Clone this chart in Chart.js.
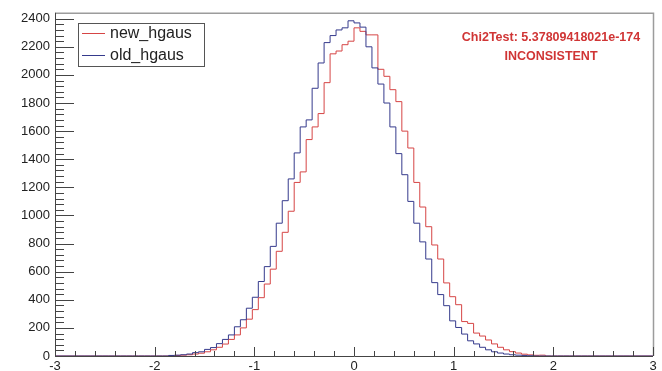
<!DOCTYPE html>
<html>
<head>
<meta charset="utf-8">
<script src="https://cdn.jsdelivr.net/npm/chart.js@4.4.1/dist/chart.umd.min.js"></script>
<style>
  html, body { margin: 0; padding: 0; background: #fff; }
  canvas { display: block; }
</style>
</head>
<body>
<canvas id="histChart" width="662" height="371"></canvas>
<script>
// histogram binning: 100 bins from -3 to 3
const histMin = -3;
const histMax = 3;

// bin contents, one value per bin (bin 0 starts at -3)
const newCounts = [
  0, 0, 0, 0, 0, 0, 0, 0, 0, 0,
  0, 0, 0, 0, 0, 0, 0, 0, 0, 0,
  2, 4, 6, 9, 14, 20, 30, 44, 62, 85,
  118, 150, 200, 262, 330, 415, 512, 618, 745, 880,
  1030, 1235, 1310, 1540, 1630, 1725, 1945, 2150, 2170, 2215,
  2240, 2335, 2310, 2285, 2285, 2040, 1990, 1895, 1810, 1600,
  1480, 1235, 1060, 920, 790, 690, 520, 422, 365, 245,
  232, 163, 142, 114, 86, 62, 44, 31, 21, 13,
  8, 5, 6, 0, 0, 0, 0, 0, 0, 0,
  0, 0, 0, 0, 0, 0, 0, 0, 0, 0
];
const oldCounts = [
  0, 0, 0, 0, 0, 0, 0, 0, 0, 0,
  0, 0, 0, 0, 0, 0, 0, 0, 0, 0,
  4, 6, 9, 14, 24, 30, 47, 60, 88, 118,
  150, 208, 258, 340, 418, 530, 636, 780, 945, 1105,
  1260, 1445, 1630, 1680, 1905, 2085, 2230, 2280, 2320, 2335,
  2385, 2370, 2340, 2200, 2050, 1935, 1800, 1630, 1440, 1290,
  1100, 945, 812, 690, 522, 437, 358, 250, 203, 156,
  108, 86, 62, 44, 30, 21, 14, 9, 6, 4,
  2, 0, 0, 0, 0, 0, 0, 0, 0, 0,
  0, 0, 0, 0, 0, 0, 0, 0, 0, 0
];

const seriesNames = ['new_hgaus', 'old_hgaus'];
const xTickValues = [-3, -2, -1, 0, 1, 2, 3];
const yTickValues = [0, 200, 400, 600, 800, 1000, 1200, 1400, 1600, 1800, 2000, 2200, 2400];
const yMax = 2442;
const chi2Lines = ['Chi2Test: 5.37809418021e-174', 'INCONSISTENT'];

const RED = '#d64545';
const BLUE = '#353a8c';

// turn bin contents into step points on the bin edges
const stepPoints = (counts) => {
  const w = (histMax - histMin) / counts.length;
  const pts = counts.map((c, i) => ({ x: histMin + i * w, y: c }));
  pts.push({ x: histMax, y: counts[counts.length - 1] });
  return pts;
};

Chart.defaults.font.family = '"Liberation Sans", Arial, Helvetica, sans-serif';
Chart.defaults.color = '#222';

// ROOT-like frame: inward ticks with minor subdivisions, legend and test text
const rootFrame = {
  id: 'rootFrame',
  afterDraw(chart) {
    const { ctx, chartArea: a, scales: { x, y } } = chart;
    ctx.save();

    // top / right frame
    ctx.strokeStyle = '#9c9c9c';
    ctx.lineWidth = 1.5;
    ctx.beginPath();
    ctx.moveTo(a.left, a.top + 0.5);
    ctx.lineTo(a.right + 0.5, a.top + 0.5);
    ctx.lineTo(a.right + 0.5, a.bottom);
    ctx.stroke();

    // axes
    ctx.strokeStyle = '#444';
    ctx.lineWidth = 1;
    ctx.beginPath();
    ctx.moveTo(a.left + 0.5, a.top);
    ctx.lineTo(a.left + 0.5, a.bottom + 0.5);
    ctx.lineTo(a.right, a.bottom + 0.5);
    ctx.stroke();

    ctx.beginPath();
    for (let v = 0; v <= 2400; v += 40) {
      const py = Math.round(y.getPixelForValue(v)) + 0.5;
      const len = v % 200 === 0 ? 19 : 9;
      ctx.moveTo(a.left, py);
      ctx.lineTo(a.left + len, py);
    }
    for (let i = 0; i <= 30; i++) {
      const px = Math.round(x.getPixelForValue(histMin + i * 0.2)) + 0.5;
      const len = i % 5 === 0 ? 9 : 5;
      ctx.moveTo(px, a.bottom);
      ctx.lineTo(px, a.bottom - len);
    }
    ctx.stroke();

    // legend box
    ctx.strokeStyle = '#555';
    ctx.strokeRect(78.5, 23.5, 126, 43);
    const colors = [RED, BLUE];
    ctx.font = '16px "Liberation Sans", Arial, sans-serif';
    ctx.textAlign = 'left';
    ctx.textBaseline = 'alphabetic';
    seriesNames.forEach((name, i) => {
      const ly = 33 + i * 22;
      ctx.strokeStyle = colors[i];
      ctx.beginPath();
      ctx.moveTo(82, ly + 0.5);
      ctx.lineTo(105, ly + 0.5);
      ctx.stroke();
      ctx.fillStyle = '#222';
      ctx.fillText(name, 110, ly + 5);
    });

    // chi2 test result
    ctx.fillStyle = '#d03535';
    ctx.font = 'bold 12.5px "Liberation Sans", Arial, sans-serif';
    ctx.textAlign = 'center';
    chi2Lines.forEach((t, i) => ctx.fillText(t, 551, 41 + i * 19));

    ctx.restore();
  }
};

new Chart(document.getElementById('histChart'), {
  type: 'line',
  data: {
    datasets: [
      {
        label: seriesNames[0],
        data: stepPoints(newCounts),
        borderColor: RED,
        borderWidth: 1,
        stepped: 'after',
        pointRadius: 0,
        fill: false,
        order: 1,
      },
      {
        label: seriesNames[1],
        data: stepPoints(oldCounts),
        borderColor: BLUE,
        borderWidth: 1,
        stepped: 'after',
        pointRadius: 0,
        fill: false,
        order: 0,
      },
    ],
  },
  options: {
    responsive: false,
    animation: false,
    layout: { padding: { top: 10, right: 9, left: 0, bottom: 0 } },
    plugins: { legend: { display: false }, tooltip: { enabled: false } },
    scales: {
      x: {
        type: 'linear',
        min: histMin,
        max: histMax,
        grid: { display: false, drawTicks: false },
        border: { display: false },
        afterBuildTicks: (s) => { s.ticks = xTickValues.map(v => ({ value: v })); },
        afterFit: (s) => { s.height = 15; },
        ticks: { font: { size: 13 }, padding: 3, maxRotation: 0, autoSkip: false, callback: (v) => String(v) },
      },
      y: {
        min: 0,
        max: yMax,
        grid: { display: false, drawTicks: false },
        border: { display: false },
        afterBuildTicks: (s) => { s.ticks = yTickValues.map(v => ({ value: v })); },
        afterFit: (s) => { s.width = 55; },
        ticks: { font: { size: 13 }, padding: 5, callback: (v) => String(v) },
      },
    },
  },
  plugins: [rootFrame],
});
</script>
</body>
</html>
